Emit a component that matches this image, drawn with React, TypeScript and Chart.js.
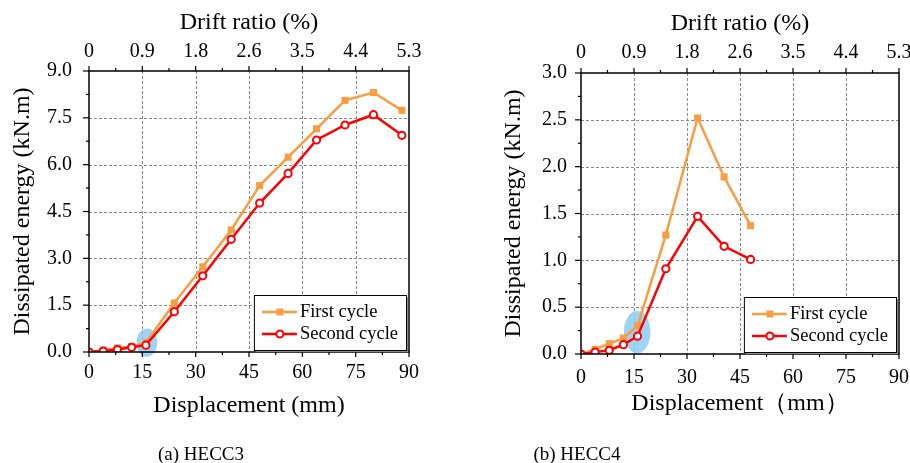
import React, { useEffect, useRef } from "react";
import { Chart, registerables } from "chart.js";

Chart.register(...registerables);

const SERIF = '"Times New Roman", "Liberation Serif", serif';

// Shared axes: displacement (mm) at the bottom, drift ratio (%) on top
const displacementTicks = [0, 15, 30, 45, 60, 75, 90];
const driftRatioLabels = ["0", "0.9", "1.8", "2.6", "3.5", "4.4", "5.3"];
const seriesNames = ["First cycle", "Second cycle"];

// (a) HECC3
const hecc3Displacement = [0, 4, 8, 12, 16, 24, 32, 40, 48, 56, 64, 72, 80, 88];
const hecc3FirstCycle = [0, 0.06, 0.13, 0.18, 0.3, 1.57, 2.73, 3.91, 5.33, 6.24, 7.15, 8.06, 8.31, 7.74];
const hecc3SecondCycle = [0, 0.03, 0.08, 0.15, 0.22, 1.29, 2.44, 3.61, 4.77, 5.72, 6.79, 7.27, 7.6, 6.94];
const hecc3EnergyTicks = [0, 1.5, 3, 4.5, 6, 7.5, 9];

// (b) HECC4
const hecc4Displacement = [0, 4, 8, 12, 16, 24, 33, 40.5, 48];
const hecc4FirstCycle = [0, 0.05, 0.11, 0.17, 0.3, 1.27, 2.52, 1.89, 1.37];
const hecc4SecondCycle = [0, 0.02, 0.04, 0.1, 0.19, 0.91, 1.47, 1.15, 1.01];
const hecc4EnergyTicks = [0, 0.5, 1, 1.5, 2, 2.5, 3];

const ORANGE = "#F99D42";
const RED = "#FF0000";

type Panel = {
  caption: string;
  captionCenter: number;
  canvasLeft: number;
  canvasWidth: number;
  area: { left: number; top: number; right: number; bottom: number };
  xs: number[];
  first: number[];
  second: number[];
  yTicks: number[];
  xTitle: string;
  yTickPad: number;
  xTickPad: number;
  x2TickPad: number;
  yTitlePad: number;
  xTitlePad: number;
  x2TitlePad: number;
  highlight: { x: number; y: number; rx: number; ry: number };
};

const H = 463;

const panels: Panel[] = [
  {
    caption: "(a) HECC3",
    captionCenter: 201,
    canvasLeft: 0,
    canvasWidth: 455,
    area: { left: 89, top: 71, right: 409, bottom: 352 },
    xs: hecc3Displacement,
    first: hecc3FirstCycle,
    second: hecc3SecondCycle,
    yTicks: hecc3EnergyTicks,
    xTitle: "Displacement (mm)",
    yTickPad: 17,
    xTickPad: 9,
    x2TickPad: 7,
    yTitlePad: 8.6,
    xTitlePad: 42.6,
    x2TitlePad: 8.6,
    highlight: { x: 16.3, y: 0.3, rx: 10.3, ry: 14.2 },
  },
  {
    caption: "(b) HECC4",
    captionCenter: 577,
    canvasLeft: 455,
    canvasWidth: 470,
    area: { left: 581, top: 73, right: 899, bottom: 354 },
    xs: hecc4Displacement,
    first: hecc4FirstCycle,
    second: hecc4SecondCycle,
    yTicks: hecc4EnergyTicks,
    xTitle: "Displacement（mm）",
    yTickPad: 14,
    xTickPad: 12,
    x2TickPad: 8,
    yTitlePad: 44.6,
    xTitlePad: 44.6,
    x2TitlePad: 9.6,
    highlight: { x: 15.9, y: 0.235, rx: 13.3, ry: 21.3 },
  },
];

const framePlugin = {
  id: "frame",
  beforeDatasetsDraw(chart: any, _args: any, opts: any) {
    const { ctx, chartArea: a, scales } = chart;
    const xs = scales.x;
    const ys = scales.y;
    ctx.save();
    ctx.strokeStyle = "#8a8a8a";
    ctx.lineWidth = 1;
    ctx.setLineDash([3, 2]);
    xs.ticks.forEach((t: any) => {
      if (t.value > xs.min && t.value < xs.max) {
        const px = Math.round(xs.getPixelForValue(t.value)) + 0.5;
        ctx.beginPath();
        ctx.moveTo(px, a.top);
        ctx.lineTo(px, a.bottom);
        ctx.stroke();
      }
    });
    ys.ticks.forEach((t: any) => {
      if (t.value > ys.min && t.value < ys.max) {
        const py = Math.round(ys.getPixelForValue(t.value)) + 0.5;
        ctx.beginPath();
        ctx.moveTo(a.left, py);
        ctx.lineTo(a.right, py);
        ctx.stroke();
      }
    });
    ctx.restore();

    const h = opts.highlight;
    ctx.save();
    ctx.fillStyle = "rgba(140, 205, 245, 0.85)";
    ctx.beginPath();
    ctx.ellipse(xs.getPixelForValue(h.x), ys.getPixelForValue(h.y), h.rx, h.ry, 0, 0, Math.PI * 2);
    ctx.fill();
    ctx.restore();
  },
  afterDatasetsDraw(chart: any) {
    const { ctx, chartArea: a, scales } = chart;
    const xs = scales.x;
    const ys = scales.y;
    const x2 = scales.x2;
    ctx.save();
    ctx.strokeStyle = "#000";
    ctx.lineWidth = 1.5;
    ctx.strokeRect(a.left, a.top, a.right - a.left, a.bottom - a.top);

    ctx.lineWidth = 1.2;
    const seg = (x1: number, y1: number, x2p: number, y2: number) => {
      ctx.beginPath();
      ctx.moveTo(x1, y1);
      ctx.lineTo(x2p, y2);
      ctx.stroke();
    };
    const xt = xs.ticks.map((t: any) => t.value);
    xt.forEach((v: number, i: number) => {
      const px = xs.getPixelForValue(v);
      seg(px, a.bottom, px, a.bottom + 5);
      const tp = x2.getPixelForValue(x2.ticks[i] ? x2.ticks[i].value : v);
      seg(tp, a.top, tp, a.top - 5);
      if (i < xt.length - 1) {
        const m = xs.getPixelForValue((v + xt[i + 1]) / 2);
        seg(m, a.bottom, m, a.bottom + 3);
        seg(m, a.top, m, a.top - 3);
      }
    });
    const yt = ys.ticks.map((t: any) => t.value);
    yt.forEach((v: number, i: number) => {
      const py = ys.getPixelForValue(v);
      seg(a.left, py, a.left - 6, py);
      if (i < yt.length - 1) {
        const m = ys.getPixelForValue((v + yt[i + 1]) / 2);
        seg(a.left, m, a.left - 3, m);
      }
    });

    // legend box
    ctx.font = `18.5px ${SERIF}`;
    const tw = Math.max(...seriesNames.map((s) => ctx.measureText(s).width));
    const bw = 46 + tw + 8;
    const bx = a.right - 3 - bw;
    const by = a.bottom - 57;
    const bh = 55;
    ctx.fillStyle = "#8a8a8a";
    ctx.fillRect(bx + 2, by + 2, bw, bh);
    ctx.fillStyle = "#fff";
    ctx.fillRect(bx, by, bw, bh);
    ctx.strokeStyle = "#000";
    ctx.lineWidth = 1;
    ctx.strokeRect(bx + 0.5, by + 0.5, bw, bh);

    const rows = [
      { y: a.bottom - 40, color: ORANGE, name: seriesNames[0], square: true },
      { y: a.bottom - 18, color: RED, name: seriesNames[1], square: false },
    ];
    rows.forEach((r) => {
      ctx.strokeStyle = r.color;
      ctx.lineWidth = 2.5;
      seg(bx + 8, r.y, bx + 43, r.y);
      const cx = bx + 26;
      if (r.square) {
        ctx.fillStyle = r.color;
        ctx.fillRect(cx - 3.5, r.y - 3.5, 7, 7);
      } else {
        ctx.fillStyle = "#fff";
        ctx.lineWidth = 2;
        ctx.beginPath();
        ctx.arc(cx, r.y, 3.5, 0, Math.PI * 2);
        ctx.fill();
        ctx.stroke();
      }
      ctx.fillStyle = "#000";
      ctx.textAlign = "left";
      ctx.textBaseline = "middle";
      ctx.fillText(r.name, bx + 46, r.y);
    });
    ctx.restore();
  },
};

function EnergyChart({ p }: { p: Panel }) {
  const ref = useRef<HTMLCanvasElement | null>(null);
  useEffect(() => {
    if (!ref.current) return;
    const tickFont = { family: SERIF, size: 20 };
    const titleFont = { family: SERIF, size: 24 };
    const noGrid = { display: false, drawTicks: false, tickLength: 0 };
    const chart = new Chart(ref.current, {
      type: "line",
      data: {
        datasets: [
          {
            label: seriesNames[0],
            data: p.xs.map((x, i) => ({ x, y: p.first[i] })),
            borderColor: ORANGE,
            backgroundColor: ORANGE,
            borderWidth: 2.5,
            pointStyle: "rect",
            pointRadius: 5,
            pointBorderWidth: 0,
            pointBackgroundColor: ORANGE,
            tension: 0,
            order: 1,
          },
          {
            label: seriesNames[1],
            data: p.xs.map((x, i) => ({ x, y: p.second[i] })),
            borderColor: RED,
            backgroundColor: "#fff",
            borderWidth: 2.5,
            pointStyle: "circle",
            pointRadius: 3.6,
            pointBorderWidth: 2,
            pointBackgroundColor: "#fff",
            pointBorderColor: RED,
            tension: 0,
            order: 0,
          },
        ],
      },
      options: {
        responsive: false,
        animation: false,
        devicePixelRatio: 1,
        layout: {
          padding: { left: 0, top: 0, bottom: 0, right: p.canvasWidth - (p.area.right - p.canvasLeft) },
        },
        plugins: {
          legend: { display: false },
          tooltip: { enabled: false },
          frame: { highlight: p.highlight },
        } as any,
        scales: {
          x: {
            type: "linear",
            position: "bottom",
            min: displacementTicks[0],
            max: displacementTicks[displacementTicks.length - 1],
            grid: noGrid,
            border: { display: false },
            afterBuildTicks: (s: any) => {
              s.ticks = displacementTicks.map((v) => ({ value: v }));
            },
            ticks: {
              font: tickFont,
              color: "#000",
              padding: p.xTickPad,
              autoSkip: false,
              maxRotation: 0,
              callback: (v: any) => String(v),
            },
            title: {
              display: true,
              text: p.xTitle,
              font: titleFont,
              color: "#000",
              padding: { top: 0, bottom: p.xTitlePad },
            },
            afterFit: (s: any) => {
              s.height = H - p.area.bottom;
            },
          },
          x2: {
            type: "linear",
            position: "top",
            min: displacementTicks[0],
            max: displacementTicks[displacementTicks.length - 1],
            grid: noGrid,
            border: { display: false },
            afterBuildTicks: (s: any) => {
              s.ticks = displacementTicks.map((v) => ({ value: v }));
            },
            ticks: {
              font: tickFont,
              color: "#000",
              padding: p.x2TickPad,
              autoSkip: false,
              maxRotation: 0,
              callback: (_v: any, i: number) => driftRatioLabels[i],
            },
            title: {
              display: true,
              text: "Drift ratio (%)",
              font: titleFont,
              color: "#000",
              padding: { top: p.x2TitlePad, bottom: 0 },
            },
            afterFit: (s: any) => {
              s.height = p.area.top;
            },
          },
          y: {
            type: "linear",
            position: "left",
            min: p.yTicks[0],
            max: p.yTicks[p.yTicks.length - 1],
            grid: noGrid,
            border: { display: false },
            afterBuildTicks: (s: any) => {
              s.ticks = p.yTicks.map((v) => ({ value: v }));
            },
            ticks: {
              font: tickFont,
              color: "#000",
              padding: p.yTickPad,
              autoSkip: false,
              callback: (v: any) => Number(v).toFixed(1),
            },
            title: {
              display: true,
              text: "Dissipated energy (kN.m)",
              font: titleFont,
              color: "#000",
              padding: { top: p.yTitlePad, bottom: 0 },
            },
            afterFit: (s: any) => {
              s.width = p.area.left - p.canvasLeft;
            },
          },
        },
      } as any,
      plugins: [framePlugin as any],
    });
    return () => chart.destroy();
  }, []);
  return (
    <canvas
      ref={ref}
      width={p.canvasWidth}
      height={H}
      style={{ position: "absolute", left: p.canvasLeft, top: 0, width: p.canvasWidth, height: H }}
    />
  );
}

export default function App() {
  return (
    <div
      style={{
        position: "absolute",
        left: 0,
        top: 0,
        width: 910,
        height: H,
        overflow: "hidden",
        background: "#fff",
      }}
    >
      {panels.map((p) => (
        <EnergyChart key={p.caption} p={p} />
      ))}
      {panels.map((p) => (
        <div
          key={p.caption + "-cap"}
          style={{
            position: "absolute",
            left: p.captionCenter - 100,
            top: 443,
            width: 200,
            textAlign: "center",
            fontFamily: SERIF,
            fontSize: 19,
            color: "#000",
            whiteSpace: "nowrap",
          }}
        >
          {p.caption}
        </div>
      ))}
    </div>
  );
}
